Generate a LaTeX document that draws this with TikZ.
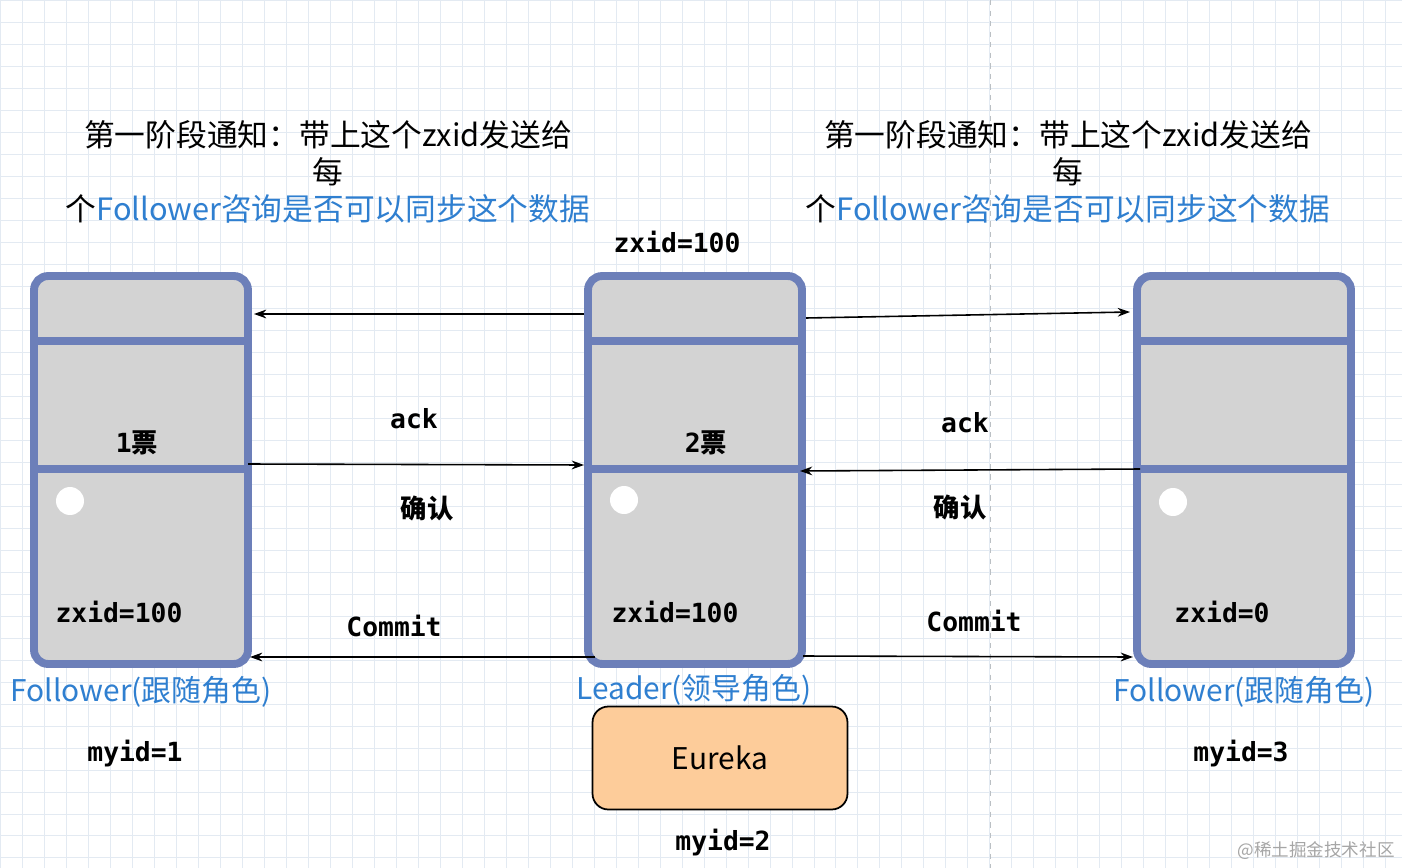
\documentclass[tikz,border=0pt]{standalone}
\usepackage{fontspec}
\setmainfont{Noto Sans CJK SC}
\newfontfamily\monof{DejaVu Sans Mono}
\newfontfamily\cjk{Noto Sans CJK SC}
\usetikzlibrary{arrows.meta}
\definecolor{frameblue}{HTML}{6C7FB9}
\definecolor{boxgray}{HTML}{D3D3D3}
\definecolor{textblue}{HTML}{2F7FD0}
\definecolor{eurekafill}{HTML}{FDCC9A}
\definecolor{gridline}{HTML}{E3EAF2}
\tikzset{
  server/.style={draw=frameblue, fill=boxgray, line width=4.5pt, rounded corners=8pt,
    minimum width=4.28cm, minimum height=7.76cm, inner sep=0pt},
  divider/.style={draw=frameblue, line width=4.5pt},
  msg/.style={-{Stealth[length=7pt,width=5pt]}, line width=0.9pt},
  title/.style={font=\fontsize{17.5}{21}\selectfont, align=center},
  mono/.style={font=\monof\bfseries\fontsize{15}{17}\selectfont},
  role/.style={text=textblue, font=\fontsize{17}{20}\selectfont},
  hole/.style={circle, fill=white, minimum size=0.56cm, inner sep=0pt}
}
\begin{document}
\begin{tikzpicture}[x=0.02cm, y=-0.02cm]
    \useasboundingbox (0,0) rectangle (1402,868);
    \fill[white] (0,0) rectangle (1402,868);
    \draw[gridline, line width=0.4pt, step=0.44cm] (0,0) grid (1402,868);
    \draw[gridline!60!gray, dashed, line width=0.5pt] (990,0) -- (990,868);

    % titles
    \node[title] (t1) at (328,172) {第一阶段通知：带上这个zxid发送给\\每\\个{\color{textblue}Follower咨询是否可以同步这个数据}};
    \node[title] (t2) at (1068,172) {第一阶段通知：带上这个zxid发送给\\每\\个{\color{textblue}Follower咨询是否可以同步这个数据}};
    \node[mono] (z0) at (677,242) {zxid=100};

    % servers
    \node[server] (L) at (141,470) {};
    \node[server] (M) at (695,470) {};
    \node[server] (R) at (1244,470) {};
    \foreach \s in {L,M,R} {
        \draw[divider] ([yshift=-1.38cm]\s.north west) -- ([yshift=-1.38cm]\s.north east);
        \draw[divider] ([yshift=-3.94cm]\s.north west) -- ([yshift=-3.94cm]\s.north east);
    }
    \node[hole] (hL) at (70,501) {};
    \node[hole] (hM) at (624,500) {};
    \node[hole] (hR) at (1173,502) {};
    \node[mono] (v1) at (137,443) {1{\cjk 票}};
    \node[mono] (v2) at (706,443) {2{\cjk 票}};
    \node[mono] (zL) at (119,612) {zxid=100};
    \node[mono] (zM) at (675,612) {zxid=100};
    \node[mono] (zR) at (1222,612) {zxid=0};

    % message ends
    \coordinate (a1) at (584,314); \coordinate (b1) at (254,314);
    \coordinate (a2) at (806,318); \coordinate (b2) at (1130,312);
    \coordinate (a3) at (248,464); \coordinate (b3) at (584,465);
    \coordinate (a4) at (1140,469); \coordinate (b4) at (800,471);
    \coordinate (a5) at (595,657); \coordinate (b5) at (250,657);
    \coordinate (a6) at (803,656); \coordinate (b6) at (1133,657);
    \draw[msg] (a1) -- (b1);
    \draw[msg] (a2) -- (b2);
    \draw[msg] (a3) -- (b3);
    \draw[msg] (a4) -- (b4);
    \draw[msg] (a5) -- (b5);
    \draw[msg] (a6) -- (b6);

    \node[mono] (ack1) at (414,419) {ack};
    \node[mono] (ok1) at (427,508) {\cjk 确认};
    \node[mono] (c1) at (394,626) {Commit};
    \node[mono] (ack2) at (965,423) {ack};
    \node[mono] (ok2) at (960,507) {\cjk 确认};
    \node[mono] (c2) at (974,621) {Commit};

    % roles
    \node[role] (rL) at (141,692) {Follower(跟随角色)};
    \node[role] (rM) at (694,690) {Leader(领导角色)};
    \node[role] (rR) at (1244,692) {Follower(跟随角色)};
    \node[mono] (id1) at (135,754) {myid=1};
    \node[mono] (id3) at (1241,754) {myid=3};
    \node[mono] (id2) at (723,843) {myid=2};

    \node[draw, fill=eurekafill, rounded corners=9pt, line width=1pt, minimum width=5.1cm,
      minimum height=2.06cm, font=\fontsize{17}{20}\selectfont] (eu) at (720,758) {Eureka};

    \node[text=gray!70, font=\fontsize{10}{12}\selectfont] (wm) at (1316,851) {@稀土掘金技术社区};
\end{tikzpicture}
\end{document}
